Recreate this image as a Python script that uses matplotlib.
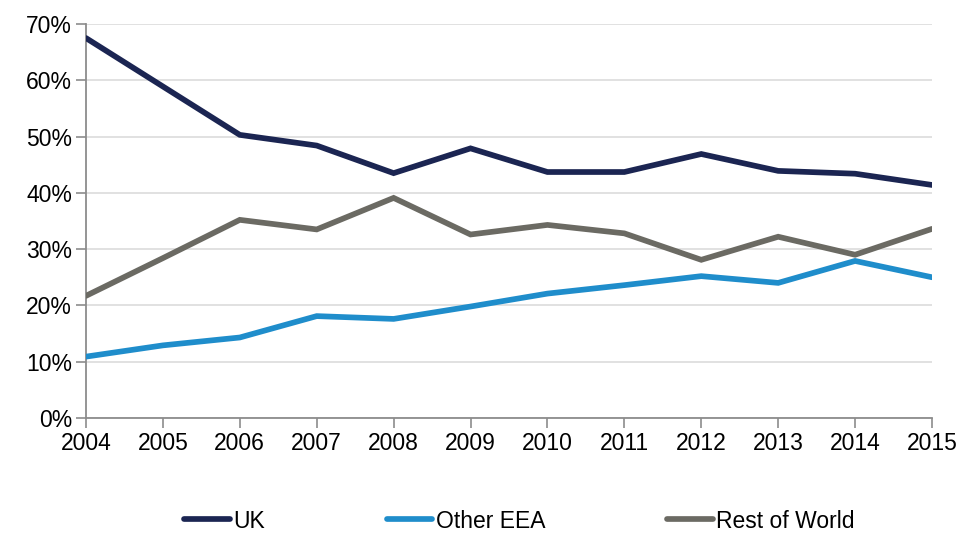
import matplotlib
matplotlib.use("Agg")
import matplotlib.pyplot as plt
from matplotlib.ticker import FuncFormatter

years = [2004, 2005, 2006, 2007, 2008, 2009, 2010, 2011, 2012, 2013, 2014, 2015]
uk = [67.5, 58.9, 50.3, 48.4, 43.5, 47.9, 43.7, 43.7, 46.9, 43.9, 43.4, 41.4]
other_eea = [10.9, 12.9, 14.3, 18.1, 17.6, 19.8, 22.1, 23.6, 25.2, 24.0, 27.9, 25.0]
rest_of_world = [21.7, 28.4, 35.2, 33.5, 39.1, 32.6, 34.3, 32.8, 28.1, 32.2, 29.0, 33.6]

series = [
    ("UK", uk, "#1b2552"),
    ("Other EEA", other_eea, "#1f8dcb"),
    ("Rest of World", rest_of_world, "#6b6a63"),
]

plt.rcParams["font.family"] = ["Liberation Sans", "DejaVu Sans"]

fig = plt.figure(figsize=(9.67, 5.33), dpi=100)
ax = fig.add_axes([0.0889, 0.2158, 0.8749, 0.7392])

for name, vals, col in series:
    ax.plot(years, vals, color=col, lw=4.1, label=name,
            solid_capstyle="round", solid_joinstyle="miter", zorder=3)

ax.set_xlim(2004, 2015)
ax.set_ylim(0, 70)
ax.set_xticks(years)
ax.set_yticks(range(0, 71, 10))
ax.yaxis.set_major_formatter(FuncFormatter(lambda v, p: f"{int(v)}%"))

ax.grid(axis="y", color="#d9d9d9", lw=1.1, zorder=0)
ax.grid(axis="x", visible=False)
for s in ("top", "right"):
    ax.spines[s].set_visible(False)
for s in ("left", "bottom"):
    ax.spines[s].set_color("#8c8c8c")
    ax.spines[s].set_linewidth(1.3)
ax.tick_params(axis="both", colors="#8c8c8c", length=7, width=1.2,
               labelcolor="black", labelsize=16.5)
ax.tick_params(axis="x", pad=3)
ax.tick_params(axis="y", pad=3)

fig.legend(loc="center", bbox_to_anchor=(0.537, 0.0225), ncol=3, frameon=False,
           fontsize=16.5, handlelength=2.0, handletextpad=0.15, columnspacing=5.3)

fig.savefig("out.png", dpi=100)
